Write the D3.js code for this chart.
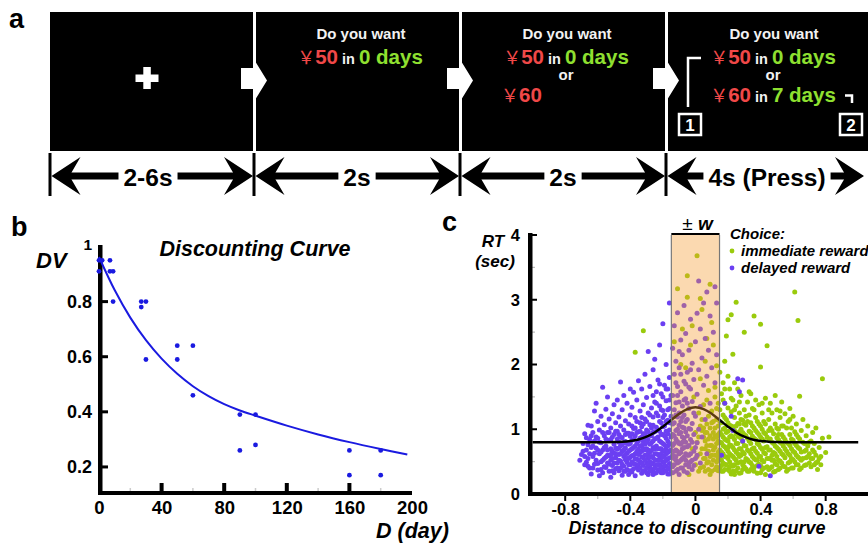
<!DOCTYPE html>
<html>
<head>
<meta charset="utf-8">
<script src="https://cdn.jsdelivr.net/npm/d3@7"></script>
<style>
body { margin: 0; background: #fff; }
svg { display: block; font-family: "Liberation Sans", Arial, sans-serif; }
</style>
</head>
<body>
<script>
const W = 868, H = 543
const RED = "#f04848", LIME = "#8fe030"
const PURPLE = "#6b3ff2", GREEN = "#9acb0c", BLUE = "#1a1ae0"

// panel a : trial timeline
const stageLabels = ["2-6s", "2s", "2s", "4s (Press)"]
const stageEdges = [50, 254, 460, 666, 868]

// panel b : discounting curve
const delayDays = [0, 2, 0, 7, 7, 9, 9, 27, 27, 30, 30, 50, 50, 60, 60, 90, 90, 100, 100, 160, 160, 180, 180]
const dvValues = [0.95, 0.95, 0.91, 0.95, 0.91, 0.91, 0.80, 0.80, 0.78, 0.80, 0.59, 0.64, 0.59, 0.64, 0.46, 0.39, 0.26, 0.39, 0.28, 0.26, 0.17, 0.26, 0.17]
const fitDays = [0, 10, 20, 30, 40, 50, 60, 70, 80, 90, 100, 120, 140, 160, 180, 197]
const fitDV = [0.962, 0.842, 0.742, 0.66, 0.593, 0.538, 0.493, 0.457, 0.428, 0.405, 0.386, 0.35, 0.318, 0.29, 0.265, 0.245]
const dvTicks = [0.2, 0.4, 0.6, 0.8, 1]
const dayTicks = [0, 40, 80, 120, 160, 200]

// panel c : RT vs distance to curve
const rtTicks = [0, 1, 2, 3, 4]
const distTicks = [-0.8, -0.4, 0, 0.4, 0.8]
const halfW = 0.148
const modelDist = [-1.0, -0.6, -0.5, -0.45, -0.4, -0.35, -0.3, -0.25, -0.2, -0.15, -0.1, -0.05, 0, 0.05, 0.1, 0.15, 0.2, 0.25, 0.3, 0.35, 0.4, 0.45, 0.5, 0.6, 1.0]
const modelRT = [0.8, 0.8, 0.803, 0.808, 0.82, 0.843, 0.885, 0.95, 1.04, 1.14, 1.24, 1.31, 1.34, 1.31, 1.24, 1.14, 1.04, 0.95, 0.885, 0.843, 0.82, 0.808, 0.803, 0.8, 0.8]

const immediatePts = [
  [0.01,3.68],[-0.05,3.37],[-0.11,3.17],[-0.05,3.04],[0.09,3.24],[-0.08,2.55],[-0.02,2.60],[0.04,2.85],[0.10,2.65],[-0.13,2.35],
  [-0.03,2.30],[0.06,2.05],[0.11,2.30],[0.13,1.98],[-0.06,1.95],[0.03,1.78],[0.08,1.60],[0.12,1.50],[-0.01,1.50],[0.05,1.38],
  [0.10,1.28],[0.13,1.15],[0.02,1.25],[0.07,1.08],[0.11,0.95],[0.14,0.82],[0.04,0.98],[0.08,0.85],[0.12,0.72],[0.01,0.80],
  [0.06,0.70],[0.10,0.60],[0.13,0.50],[0.03,0.62],[0.08,0.50],[0.12,0.38],[0.05,0.42],[0.09,0.30],[0.14,0.65],[0.02,0.35],
  [-0.02,0.70],[0.00,0.95],[0.06,0.55],[0.11,1.12],[0.13,1.32],[0.07,1.45],[0.09,0.75],[0.04,1.15],[0.12,0.90],[0.10,0.45],
  [-0.04,0.30],[0.14,1.05],[0.08,1.20],[0.05,0.88],[0.11,0.68],[0.13,0.60],[0.06,0.95],[0.09,1.02],[0.14,1.40],[0.12,1.65],
  [-0.09,2.00],[-0.12,1.20],[0.03,3.02],[0.07,2.40],[-0.32,2.52],[-0.37,2.19],
  [0.00,0.45],[0.01,0.58],[0.02,0.88],[0.03,0.40],[0.03,1.05],[0.04,0.70],[0.05,0.55],[0.05,1.02],[0.06,0.35],[0.06,0.82],
  [0.07,0.48],[0.07,0.95],[0.08,0.66],[0.08,0.38],[0.09,0.58],[0.09,0.90],[0.10,0.75],[0.10,1.10],[0.11,0.52],[0.11,0.85],
  [0.12,0.60],[0.12,1.02],[0.13,0.42],[0.13,0.78],[0.14,0.55],[0.14,0.92],[0.14,0.36],[0.13,0.88],[0.10,0.35],[0.07,0.75],
  [0.15,0.40],[0.15,0.68],[0.15,0.95],[0.15,1.30],[0.15,1.88],[0.16,0.52],[0.16,0.79],[0.16,1.10],[0.16,1.55],[0.17,0.35],
  [0.17,0.62],[0.17,0.88],[0.17,1.22],[0.17,1.72],[0.18,0.46],[0.18,0.73],[0.18,1.02],[0.18,1.40],[0.18,2.05],[0.19,0.57],
  [0.19,0.83],[0.19,1.15],[0.19,2.44],[0.20,0.38],[0.20,0.66],[0.20,0.97],[0.20,1.33],[0.20,2.69],[0.21,0.50],[0.21,0.76],
  [0.21,1.06],[0.21,1.62],[0.22,0.31],[0.22,0.60],[0.22,0.90],[0.22,1.27],[0.22,2.77],[0.16,0.44],[0.18,0.58],[0.20,0.82],
  [0.15,1.12],[0.21,0.42],[0.19,0.70],[0.17,1.00],[0.22,1.48],
  [0.23,0.43],[0.23,0.72],[0.23,1.04],[0.23,1.45],[0.23,2.16],[0.24,0.55],[0.24,0.84],[0.24,1.18],[0.25,0.36],[0.25,0.65],
  [0.25,0.93],[0.25,1.36],[0.25,2.96],[0.26,0.48],[0.26,0.78],[0.26,1.09],[0.26,1.62],[0.27,0.58],[0.27,0.88],[0.27,1.25],
  [0.28,0.33],[0.28,0.70],[0.28,1.00],[0.28,1.52],[0.29,0.45],[0.29,0.81],[0.29,1.14],[0.30,0.62],[0.30,0.92],[0.30,1.30],
  [0.30,2.50],[0.31,0.39],[0.31,0.74],[0.31,1.06],[0.32,0.53],[0.32,0.86],[0.32,1.42],[0.24,0.30],[0.26,0.62],[0.28,0.86],
  [0.30,0.50],[0.27,1.08],[0.24,0.98],[0.31,1.20],
  [0.33,0.35],[0.33,0.66],[0.33,0.97],[0.33,1.22],[0.34,0.48],[0.34,0.78],[0.34,1.10],[0.34,1.55],[0.35,0.58],[0.35,0.89],
  [0.35,1.32],[0.36,0.41],[0.36,0.71],[0.36,1.02],[0.36,2.75],[0.37,0.53],[0.37,0.84],[0.37,1.18],[0.37,1.45],[0.38,0.32],
  [0.38,0.63],[0.38,0.95],[0.39,0.46],[0.39,0.76],[0.39,1.08],[0.39,1.38],[0.40,0.58],[0.40,0.88],[0.40,1.96],[0.40,2.62],
  [0.41,0.38],[0.41,0.69],[0.41,1.00],[0.41,1.25],[0.42,0.50],[0.42,0.82],[0.42,1.12],[0.43,0.62],[0.43,0.93],[0.43,1.48],
  [0.44,0.42],[0.44,0.73],[0.44,2.29],[0.35,0.44],[0.38,0.52],[0.36,0.86],[0.42,0.64],[0.40,0.44],[0.34,0.62],[0.43,0.30],
  [0.45,0.55],[0.45,0.85],[0.45,1.15],[0.46,0.40],[0.46,0.68],[0.46,1.02],[0.46,1.40],[0.47,0.52],[0.47,0.80],[0.47,1.25],
  [0.48,0.34],[0.48,0.64],[0.48,0.93],[0.49,0.47],[0.49,0.74],[0.49,1.08],[0.49,1.52],[0.50,0.58],[0.50,0.87],[0.50,1.30],
  [0.51,0.38],[0.51,0.69],[0.51,1.00],[0.52,0.51],[0.52,0.80],[0.52,1.18],[0.53,0.62],[0.53,0.92],[0.53,1.42],[0.54,0.43],
  [0.54,0.74],[0.54,1.05],[0.55,0.56],[0.55,0.84],[0.55,1.24],[0.56,0.35],[0.56,0.66],[0.47,0.60],[0.50,0.45],[0.53,0.78],
  [0.45,0.98],[0.51,0.84],
  [0.57,0.48],[0.57,0.78],[0.57,1.12],[0.58,0.60],[0.58,0.92],[0.58,1.32],[0.59,0.40],[0.59,0.70],[0.59,1.02],[0.60,0.53],
  [0.60,0.83],[0.60,1.20],[0.61,3.12],[0.61,0.64],[0.61,0.96],[0.62,0.45],[0.62,0.75],[0.62,1.08],[0.63,2.68],[0.63,0.57],
  [0.63,0.88],[0.64,1.51],[0.64,0.38],[0.64,0.70],[0.65,0.98],[0.65,0.52],[0.66,0.80],[0.66,1.15],[0.67,0.44],[0.67,0.66],
  [0.68,0.90],[0.68,0.56],[0.69,0.74],[0.69,1.05],[0.70,0.48],[0.70,0.62],
  [0.71,0.82],[0.71,0.55],[0.72,0.95],[0.72,0.68],[0.73,0.45],[0.73,0.78],[0.74,0.60],[0.74,1.02],[0.75,0.50],[0.76,0.72],
  [0.77,0.58],[0.78,1.78],[0.78,0.86],[0.80,0.64],[0.82,0.88],[0.75,0.38],
  [0.15,0.55],[0.15,0.80],[0.16,0.35],[0.16,0.65],[0.16,0.92],[0.17,0.48],[0.17,0.75],[0.17,1.45],[0.18,0.38],[0.18,0.85],
  [0.18,1.18],[0.19,0.45],[0.19,0.95],[0.20,0.55],[0.20,0.72],[0.20,1.10],[0.21,0.35],[0.21,0.62],[0.21,0.88],[0.22,0.45],
  [0.22,0.75],[0.22,1.05],[0.23,0.35],[0.23,0.58],[0.23,0.88],[0.24,0.45],[0.24,0.68],[0.24,1.30],[0.25,0.52],[0.25,0.78],
  [0.25,1.05],[0.26,0.40],[0.26,0.90],[0.27,0.32],[0.27,0.70],[0.27,0.96],[0.28,0.50],[0.28,0.60],[0.28,1.15],[0.29,0.38],
  [0.29,0.65],[0.29,0.95],[0.30,0.42],[0.30,0.75],[0.30,1.08],[0.31,0.55],[0.31,0.90],[0.32,0.35],[0.32,0.68],[0.32,1.12],
  [0.33,0.50],[0.33,0.82],[0.34,0.38],[0.34,0.95],[0.35,0.70],[0.35,1.05],[0.36,0.55],[0.36,0.35],[0.37,0.66],[0.37,0.98],
  [0.38,0.44],[0.38,0.78],[0.38,1.12],[0.39,0.58],[0.39,0.92],[0.40,0.33],[0.40,0.72],[0.40,1.05],[0.41,0.52],[0.41,0.85],
  [0.42,0.40],[0.42,0.95],[0.43,0.72],[0.43,1.08],[0.44,0.55],[0.44,0.88],[0.45,0.38],[0.45,0.68],[0.46,0.55],[0.46,0.85],
  [0.47,0.42],[0.47,0.98],[0.48,0.52],[0.48,0.78],[0.49,0.35],[0.49,0.62],[0.50,0.72],[0.50,1.02],[0.51,0.52],[0.51,0.92],
  [0.52,0.40],[0.52,0.66],[0.53,0.48],[0.53,1.05],[0.54,0.60],[0.54,0.88],[0.55,0.42],[0.55,0.70],[0.56,0.80],[0.56,1.02],
  [0.57,0.62],[0.57,0.38],[0.58,0.50],[0.58,0.75],[0.59,0.85],[0.59,0.55],[0.60,0.66],[0.60,0.40],[0.61,0.78],[0.61,0.50],
  [0.62,0.60],[0.62,0.92],[0.63,0.45],[0.63,0.72],[0.64,0.55],[0.64,0.85],[0.65,0.65],[0.65,0.40],[0.66,0.55],[0.67,0.78],
  [0.68,0.45],[0.68,0.68],[0.69,0.58],[0.70,0.80],[0.71,0.42],[0.72,0.55],[0.73,0.65],[0.74,0.48],[0.76,0.55],[0.77,0.45],
  [0.18,1.62],[0.20,1.82],[0.24,1.72],[0.27,1.42],[0.33,1.58],[0.36,1.30],[0.41,1.40],[0.45,1.30],[0.52,1.28],[0.58,1.15]
]

const delayedPts = [
  [-0.71,0.52],[-0.70,0.61],[-0.69,0.78],[-0.68,0.45],[-0.68,0.93],[-0.67,0.68],[-0.66,1.06],[-0.66,0.55],[-0.65,0.84],[-0.64,0.31],
  [-0.64,0.72],[-0.64,1.05],[-0.65,0.40],[-0.67,0.87],
  [-0.63,0.58],[-0.63,0.95],[-0.62,0.46],[-0.62,1.28],[-0.61,0.71],[-0.61,1.40],[-0.60,0.37],[-0.60,0.86],[-0.60,1.12],[-0.59,0.62],
  [-0.59,0.99],[-0.58,0.50],[-0.58,0.79],[-0.58,1.20],[-0.57,0.33],[-0.57,0.68],[-0.57,1.65],[-0.56,0.90],[-0.56,0.55],[-0.56,1.07],
  [-0.59,0.28],[-0.62,0.82],
  [-0.55,0.41],[-0.55,0.74],[-0.55,1.31],[-0.54,0.60],[-0.54,1.50],[-0.54,0.95],[-0.53,0.35],[-0.53,0.83],[-0.53,1.16],[-0.52,0.26],
  [-0.52,0.52],[-0.52,0.70],[-0.52,1.02],[-0.51,0.44],[-0.51,0.88],[-0.51,1.24],[-0.50,0.63],[-0.50,0.77],[-0.50,1.38],[-0.50,0.33],
  [-0.49,0.56],[-0.49,0.97],[-0.49,1.10],[-0.48,0.48],[-0.48,0.69],[-0.48,0.85],[-0.48,1.45],[-0.53,0.59],[-0.51,0.66],[-0.49,0.39],
  [-0.47,0.36],[-0.47,0.61],[-0.47,0.92],[-0.47,1.19],[-0.46,0.51],[-0.46,0.74],[-0.46,1.05],[-0.46,1.73],[-0.45,0.29],[-0.45,0.66],
  [-0.45,0.87],[-0.45,1.30],[-0.44,0.43],[-0.44,0.58],[-0.44,0.99],[-0.44,1.52],[-0.43,0.35],[-0.43,0.71],[-0.43,0.81],[-0.43,1.13],
  [-0.42,0.49],[-0.42,0.63],[-0.42,0.94],[-0.42,1.40],[-0.41,0.30],[-0.41,0.55],[-0.41,0.77],[-0.41,1.08],[-0.40,0.45],[-0.40,0.68],
  [-0.40,0.89],[-0.40,1.22],[-0.40,1.62],[-0.46,0.40],[-0.44,0.79],[-0.42,0.38],[-0.47,0.80],[-0.43,0.53],
  [-0.39,0.34],[-0.39,0.59],[-0.39,0.83],[-0.39,1.34],[-0.38,0.47],[-0.38,0.72],[-0.38,1.01],[-0.38,1.57],[-0.37,0.28],[-0.37,0.62],
  [-0.37,0.90],[-0.37,1.18],[-0.36,0.41],[-0.36,0.54],[-0.36,0.78],[-0.36,1.45],[-0.35,0.37],[-0.35,0.69],[-0.35,0.96],[-0.35,1.75],
  [-0.34,0.50],[-0.34,0.64],[-0.34,0.86],[-0.34,1.10],[-0.34,1.28],[-0.33,0.32],[-0.33,0.57],[-0.33,0.75],[-0.33,1.04],[-0.33,1.62],
  [-0.32,0.44],[-0.32,0.81],[-0.32,0.93],[-0.32,1.38],[-0.38,0.39],[-0.36,1.12],[-0.35,0.52],[-0.37,0.74],[-0.33,0.88],[-0.39,1.05],
  [-0.31,0.36],[-0.31,0.60],[-0.31,0.77],[-0.31,1.16],[-0.31,1.85],[-0.30,0.48],[-0.30,0.70],[-0.30,0.99],[-0.30,1.49],[-0.29,0.30],
  [-0.29,0.55],[-0.29,0.84],[-0.29,1.25],[-0.29,2.20],[-0.28,0.42],[-0.28,0.65],[-0.28,0.91],[-0.28,1.07],[-0.28,1.66],[-0.27,0.35],
  [-0.27,0.58],[-0.27,0.79],[-0.27,1.33],[-0.26,0.47],[-0.26,0.72],[-0.26,0.95],[-0.26,1.19],[-0.26,1.92],[-0.25,0.32],[-0.25,0.62],
  [-0.25,0.85],[-0.25,1.42],[-0.25,2.08],[-0.24,0.52],[-0.24,0.74],[-0.24,1.03],[-0.24,1.58],[-0.30,0.40],[-0.28,0.50],[-0.27,1.02],
  [-0.29,0.68],[-0.25,0.45],[-0.31,0.93],[-0.26,0.38],
  [-0.23,0.38],[-0.23,0.61],[-0.23,0.88],[-0.23,1.21],[-0.23,1.76],[-0.22,0.45],[-0.22,0.70],[-0.22,0.97],[-0.22,1.36],[-0.22,2.30],
  [-0.21,0.33],[-0.21,0.56],[-0.21,0.80],[-0.21,1.10],[-0.21,1.55],[-0.20,0.49],[-0.20,0.66],[-0.20,0.92],[-0.20,1.29],[-0.20,2.63],
  [-0.19,0.36],[-0.19,0.59],[-0.19,0.76],[-0.19,1.05],[-0.19,1.68],[-0.18,0.43],[-0.18,0.71],[-0.18,0.86],[-0.18,1.44],[-0.18,2.00],
  [-0.17,0.31],[-0.17,0.54],[-0.17,0.82],[-0.17,1.14],[-0.17,1.62],[-0.16,0.47],[-0.16,0.66],[-0.16,0.99],[-0.16,1.32],[-0.16,2.95],
  [-0.16,1.80],[-0.21,0.62],[-0.19,0.50],[-0.17,0.74],[-0.22,0.58],[-0.20,0.40],[-0.18,0.97],[-0.23,0.52],[-0.16,0.39],[-0.20,1.18],
  [-0.69,0.66],[-0.68,0.58],[-0.67,0.49],[-0.66,0.76],[-0.66,0.43],[-0.65,0.62],[-0.64,0.90],[-0.63,0.40],[-0.63,0.74],[-0.62,0.63],
  [-0.61,0.52],[-0.61,0.88],[-0.60,0.68],[-0.60,0.47],[-0.59,0.80],[-0.58,0.38],[-0.58,0.65],[-0.57,0.95],[-0.57,0.52],[-0.56,0.72],
  [-0.56,0.42],[-0.55,0.85],[-0.55,0.57],[-0.54,0.48],[-0.54,0.68],[-0.53,0.95],[-0.53,0.46],[-0.52,0.61],[-0.52,0.84],[-0.51,0.36],
  [-0.51,0.55],[-0.50,0.92],[-0.50,0.48],[-0.49,0.71],[-0.49,0.62],[-0.48,0.40],[-0.48,0.97],[-0.47,0.52],[-0.47,0.71],[-0.46,0.62],
  [-0.46,0.88],[-0.45,0.46],[-0.45,0.76],[-0.44,0.35],[-0.44,0.68],[-0.43,0.61],[-0.43,0.92],[-0.42,0.78],[-0.42,0.55],[-0.41,0.45],
  [-0.41,0.66],[-0.41,0.94],[-0.40,0.36],[-0.40,0.57],[-0.40,0.78],[-0.39,0.50],[-0.39,0.70],[-0.39,0.93],[-0.38,0.60],[-0.38,0.84],
  [-0.37,0.46],[-0.37,0.54],[-0.37,1.02],[-0.36,0.66],[-0.36,0.95],[-0.35,0.45],[-0.35,0.61],[-0.35,0.82],[-0.34,0.40],[-0.34,0.74],
  [-0.34,0.97],[-0.33,0.48],[-0.33,0.66],[-0.33,1.18],[-0.32,0.36],[-0.32,0.56],[-0.32,0.70],[-0.32,1.08],[-0.31,0.52],[-0.31,0.68],
  [-0.31,0.85],[-0.30,0.33],[-0.30,0.60],[-0.30,0.80],[-0.30,1.12],[-0.29,0.45],[-0.29,0.62],[-0.29,0.96],[-0.28,0.36],[-0.28,0.57],
  [-0.28,0.77],[-0.28,1.22],[-0.27,0.47],[-0.27,0.67],[-0.27,0.90],[-0.26,0.30],[-0.26,0.56],[-0.26,0.82],[-0.26,1.06],[-0.25,0.40],
  [-0.25,0.53],[-0.25,0.70],[-0.25,0.96],[-0.24,0.33],[-0.24,0.62],[-0.24,0.86],[-0.24,1.25],[-0.23,0.45],[-0.23,0.70],[-0.23,0.98],
  [-0.22,0.36],[-0.22,0.52],[-0.22,0.82],[-0.22,1.12],[-0.21,0.42],[-0.21,0.70],[-0.21,0.92],[-0.21,1.30],[-0.20,0.33],[-0.20,0.57],
  [-0.20,0.78],[-0.20,1.04],[-0.19,0.44],[-0.19,0.67],[-0.19,0.90],[-0.19,1.22],[-0.18,0.35],[-0.18,0.52],[-0.18,0.62],[-0.18,1.12],
  [-0.17,0.40],[-0.17,0.64],[-0.17,0.93],[-0.17,1.30],[-0.16,0.31],[-0.16,0.56],[-0.16,0.78],[-0.16,1.10],[-0.15,0.45],[-0.15,0.68],
  [-0.15,0.88],[-0.15,1.20],[-0.15,0.33],[-0.15,1.52],[-0.16,1.45],[-0.18,1.62],[-0.20,1.50],[-0.22,1.70],[-0.24,1.40],[-0.26,1.52],
  [-0.14,0.42],[-0.14,0.75],[-0.14,1.08],[-0.14,1.52],[-0.14,2.25],[-0.13,0.55],[-0.13,0.90],[-0.13,1.30],[-0.13,1.85],[-0.13,2.60],
  [-0.12,0.35],[-0.12,0.68],[-0.12,0.98],[-0.12,1.41],[-0.12,2.05],[-0.11,0.48],[-0.11,0.81],[-0.11,1.19],[-0.11,1.66],[-0.11,2.80],
  [-0.10,0.30],[-0.10,0.62],[-0.10,0.93],[-0.10,1.25],[-0.10,1.95],[-0.09,0.52],[-0.09,0.77],[-0.09,1.12],[-0.09,1.58],[-0.09,2.38],
  [-0.08,0.40],[-0.08,0.70],[-0.08,1.03],[-0.08,1.36],[-0.08,2.15],[-0.07,0.57],[-0.07,0.86],[-0.07,1.22],[-0.07,1.74],[-0.07,2.91],
  [-0.06,0.45],[-0.06,0.96],[-0.06,1.47],[-0.06,2.48],[-0.05,0.33],[-0.05,0.73],[-0.05,1.15],[-0.05,1.88],[-0.04,0.60],[-0.04,1.01],
  [-0.04,1.32],[-0.04,2.22],[-0.03,0.50],[-0.03,0.84],[-0.03,1.62],[-0.03,2.70],[-0.02,0.38],[-0.02,1.09],[-0.02,1.43],[-0.02,2.02],
  [-0.01,0.66],[-0.01,0.92],[-0.01,1.77],[0.00,0.55],[0.00,1.20],[0.00,2.35],[0.01,0.79],[0.01,1.54],[0.01,2.79],[0.02,1.00],
  [0.02,1.92],[0.02,3.29],[0.03,0.48],[0.03,1.35],[0.03,2.55],[0.04,0.88],[0.04,2.10],[0.05,1.68],[0.05,2.95],[0.06,1.15],
  [0.06,2.40],[0.07,0.62],[0.07,1.82],[0.07,3.12],[0.08,2.22],[0.09,1.40],[0.09,2.75],[0.10,1.95],[0.11,2.50],[0.12,3.20],
  [0.12,1.72],[0.13,2.15],[0.13,2.95],[-0.12,0.52],[-0.10,1.06],[-0.06,0.62],[-0.08,0.88],[-0.04,0.42],[-0.13,0.66],[-0.11,1.52],
  [-0.07,1.02],[-0.05,1.40],
  [-0.14,0.33],[-0.14,0.60],[-0.14,0.92],[-0.13,0.45],[-0.13,0.78],[-0.13,1.10],[-0.12,0.58],[-0.12,0.85],[-0.12,1.22],[-0.11,0.38],
  [-0.11,0.66],[-0.11,1.00],[-0.10,0.50],[-0.10,0.78],[-0.10,1.42],[-0.09,0.40],[-0.09,0.64],[-0.09,0.95],[-0.08,0.55],[-0.08,0.80],
  [-0.08,1.18],[-0.07,0.35],[-0.07,0.72],[-0.07,1.45],[-0.06,0.52],[-0.06,0.80],[-0.06,1.12],[-0.05,0.60],[-0.05,0.90],[-0.04,0.48],
  [-0.04,0.75],[-0.04,1.65],[-0.03,0.62],[-0.03,1.00],[-0.02,0.52],[-0.02,0.80],[-0.01,0.44],[-0.01,1.25],[0.00,0.72],[0.01,0.60],
  [-0.12,1.72],[-0.09,1.85],[-0.06,1.70],[-0.10,2.20],[-0.03,1.92],
  [0.26,1.78],[0.29,1.76],[0.27,1.58],[0.23,0.98],[0.29,0.82],[0.39,0.43],[0.46,0.28],[0.18,1.40],[0.22,1.20],[0.16,0.60]
]

const svg = d3.select("body").append("svg").attr("width", W).attr("height", H)
svg.append("rect").attr("width", W).attr("height", H).attr("fill", "#fff")

function panelLetter(x, y, t) {
  svg.append("text").attr("x", x).attr("y", y).attr("font-size", 27).attr("font-weight", "bold").text(t)
}

// ---------- a ----------
const ga = svg.append("g")
panelLetter(9, 28, "a")

d3.pairs(stageEdges).forEach(([x0, x1], i) => {
  const l = i === 0 ? x0 : x0 + 2, r = i === 3 ? x1 : x1 - 1
  ga.append("rect").attr("x", l).attr("y", 12).attr("width", r - l).attr("height", 139).attr("fill", "#000")
})

// fixation cross
ga.append("rect").attr("x", 135.5).attr("y", 74.5).attr("width", 23).attr("height", 7.5).attr("fill", "#fff")
ga.append("rect").attr("x", 143.3).attr("y", 67).attr("width", 7.5).attr("height", 22).attr("fill", "#fff")

// block arrows between screens
stageEdges.slice(1, 4).forEach(d => {
  const pts = [[d - 13, 68], [d + 1, 68], [d + 1, 61], [d + 13, 80.5], [d + 1, 100], [d + 1, 89], [d - 13, 89]]
  ga.append("polygon").attr("points", pts.join(" ")).attr("fill", "#fff")
})

function offer(x, y, anchor, amount, days) {
  const t = ga.append("text").attr("x", x).attr("y", y).attr("text-anchor", anchor).attr("font-weight", "bold")
  t.append("tspan").attr("font-family", "'Noto Sans CJK SC', sans-serif").attr("font-weight", "normal")
    .attr("font-size", 18).attr("fill", RED).text("￥")
  t.append("tspan").attr("font-size", 20.5).attr("fill", RED).text(amount)
  if (days !== null) {
    t.append("tspan").attr("font-size", 14.5).attr("fill", "#f2f2f2").text(" in ")
    t.append("tspan").attr("font-size", 20.5).attr("fill", LIME).text(days + " days")
  }
}
function small(x, y, txt) {
  ga.append("text").attr("x", x).attr("y", y).attr("text-anchor", "middle").attr("font-weight", "bold")
    .attr("font-size", 15).attr("fill", "#f2f2f2").text(txt)
}

small(361, 39, "Do you want")
offer(360, 63.5, "middle", "50", 0)

small(567, 39, "Do you want")
offer(566, 63.5, "middle", "50", 0)
small(566, 80, "or")
offer(501, 101.5, "start", "60", null)

small(774, 39, "Do you want")
offer(773, 63.5, "middle", "50", 0)
small(773, 80, "or")
offer(773, 101.5, "middle", "60", 7)

// response keys
ga.append("path").attr("d", "M688,107V58H701").attr("fill", "none").attr("stroke", "#fff").attr("stroke-width", 2.5)
ga.append("path").attr("d", "M845,95.5H852V103").attr("fill", "none").attr("stroke", "#fff").attr("stroke-width", 2.5)
;[[679, "1"], [840, "2"]].forEach(([x, k]) => {
  ga.append("rect").attr("x", x).attr("y", 114).attr("width", 22).attr("height", 21)
    .attr("fill", "none").attr("stroke", "#fff").attr("stroke-width", 2.5)
  ga.append("text").attr("x", x + 11).attr("y", 131).attr("text-anchor", "middle").attr("font-weight", "bold")
    .attr("font-size", 17).attr("fill", "#fff").text(k)
})

// timeline
const ty = 176
function head(x, dir) {
  const p = [[x, ty], [x - dir * 29, 157], [x - dir * 20, ty - 3.5], [x - dir * 20, ty + 3.5], [x - dir * 29, 195]]
  ga.append("polygon").attr("points", p.join(" ")).attr("fill", "#000")
}
stageEdges.slice(0, 4).forEach(x => {
  ga.append("rect").attr("x", x - 1.5).attr("y", 153).attr("width", 3).attr("height", 43).attr("fill", "#000")
})
d3.pairs(stageEdges).forEach(([x0, x1], i) => {
  const x1e = i === 3 ? 864 : x1 - 1
  const cx = (x0 + x1) / 2 - (i === 0 ? 4 : 0)
  const t = ga.append("text").attr("x", cx).attr("y", 185.5).attr("text-anchor", "middle")
    .attr("font-weight", "bold").attr("font-size", 24.5).text(stageLabels[i])
  const w = t.node().getComputedTextLength()
  head(x0 + 1.5, -1)
  head(x1e, 1)
  ga.append("rect").attr("x", x0 + 20).attr("y", ty - 3.5).attr("width", cx - w / 2 - 5 - (x0 + 20)).attr("height", 7).attr("fill", "#000")
  ga.append("rect").attr("x", cx + w / 2 + 5).attr("y", ty - 3.5).attr("width", x1e - 20 - (cx + w / 2 + 5)).attr("height", 7).attr("fill", "#000")
})

// axis helper: d3 axis for tick labels, heavy rule and tick marks drawn as filled rects
function labelAxis(g, size) {
  g.select(".domain").remove()
  g.selectAll(".tick line").remove()
  g.selectAll(".tick text").attr("font-family", "'Liberation Sans', Arial, sans-serif")
    .attr("font-size", size).attr("font-weight", "bold").attr("fill", "#000")
}

// ---------- b ----------
const gb = svg.append("g")
panelLetter(11, 236, "b")
const xb = d3.scaleLinear().domain([0, 200]).range([99, 412])
const yb = d3.scaleLinear().domain([0.1, 1]).range([494.5, 246.5])

gb.append("g").attr("transform", "translate(100,0)")
  .call(d3.axisLeft(yb).tickValues(dvTicks).tickSize(0).tickPadding(8)
    .tickFormat(d => d === 1 ? "1" : d3.format(".1f")(d)))
  .call(g => labelAxis(g, 18))
  .call(g => g.selectAll(".tick").filter(d => d === 1).select("text").attr("font-size", 15.5).attr("dy", "0.2em"))

gb.append("g").attr("transform", "translate(0,493)")
  .call(d3.axisBottom(xb).tickValues(dayTicks).tickSize(0).tickPadding(8))
  .call(g => labelAxis(g, 18.5))

// faint minor ticks
gb.selectAll("rect.minor").data([20, 60, 100, 140, 180]).join("rect").attr("class", "minor")
  .attr("x", d => xb(d) - 0.75).attr("y", 488).attr("width", 1.5).attr("height", 3).attr("fill", "#ccc")
// axis rules
gb.append("rect").attr("x", 98).attr("y", 245).attr("width", 4.5).attr("height", 250).attr("fill", "#000")
gb.append("rect").attr("x", 98).attr("y", 491).attr("width", 314).attr("height", 4).attr("fill", "#000")
gb.selectAll("rect.ytick").data(dvTicks.slice(0, 4)).join("rect").attr("class", "ytick")
  .attr("x", 102).attr("y", d => yb(d) - 1.5).attr("width", 6).attr("height", 3).attr("fill", "#000")
gb.selectAll("rect.xtick").data(dayTicks.slice(1, 5)).join("rect").attr("class", "xtick")
  .attr("x", d => xb(d) - 2).attr("y", 483).attr("width", 4).attr("height", 9).attr("fill", "#000")

gb.append("path")
  .datum(d3.zip(fitDays, fitDV))
  .attr("fill", "none").attr("stroke", BLUE).attr("stroke-width", 2)
  .attr("d", d3.line().x(d => xb(d[0])).y(d => yb(d[1])).curve(d3.curveCatmullRom))

gb.selectAll("circle.dv").data(d3.zip(delayDays, dvValues)).join("circle")
  .attr("class", "dv").attr("cx", d => xb(d[0])).attr("cy", d => yb(d[1])).attr("r", 2.4).attr("fill", BLUE)

gb.append("text").attr("x", 255).attr("y", 256).attr("text-anchor", "middle").attr("font-size", 21.5)
  .attr("font-weight", "bold").attr("font-style", "italic").text("Discounting Curve")
gb.append("text").attr("x", 36).attr("y", 268).attr("font-size", 22)
  .attr("font-weight", "bold").attr("font-style", "italic").text("DV")
gb.append("text").attr("x", 376).attr("y", 538).attr("font-size", 21.5)
  .attr("font-weight", "bold").attr("font-style", "italic").text("D (day)")

// ---------- c ----------
const gc = svg.append("g")
panelLetter(442, 231, "c")
const xc = d3.scaleLinear().domain([-1.01, 1.06]).range([531, 868])
const yc = d3.scaleLinear().domain([0, 4]).range([494, 235])

gc.selectAll("circle.imm").data(immediatePts).join("circle")
  .attr("class", "imm").attr("cx", d => xc(d[0])).attr("cy", d => yc(d[1])).attr("r", 2.5).attr("fill", GREEN)
gc.selectAll("circle.del").data(delayedPts).join("circle")
  .attr("class", "del").attr("cx", d => xc(d[0])).attr("cy", d => yc(d[1])).attr("r", 2.5).attr("fill", PURPLE)

gc.append("path")
  .datum(d3.zip(modelDist, modelRT))
  .attr("fill", "none").attr("stroke", "#000").attr("stroke-width", 2.5)
  .attr("d", d3.line().x(d => xc(d[0])).y(d => yc(d[1])).curve(d3.curveMonotoneX))

// ±w band
const bx0 = xc(-halfW), bx1 = xc(halfW)
gc.append("rect").attr("x", bx0).attr("y", yc(4)).attr("width", bx1 - bx0).attr("height", yc(0) - yc(4))
  .attr("fill", "#f59a30").attr("fill-opacity", 0.38)
;[bx0, bx1].forEach(x => gc.append("line").attr("x1", x).attr("x2", x).attr("y1", yc(4)).attr("y2", yc(0))
  .attr("stroke", "#777").attr("stroke-width", 1.2))
gc.append("rect").attr("x", bx0).attr("y", yc(4) - 2).attr("width", bx1 - bx0).attr("height", 2).attr("fill", "#000")
const wl = gc.append("text").attr("x", (bx0 + bx1) / 2 + 2).attr("y", 230).attr("text-anchor", "middle").attr("font-size", 19)
wl.append("tspan").text("±")
wl.append("tspan").attr("font-weight", "bold").attr("font-style", "italic").text(" w")

gc.append("g").attr("transform", "translate(530,0)")
  .call(d3.axisLeft(yc).tickValues(rtTicks).tickSize(0).tickPadding(10).tickFormat(d3.format("d")))
  .call(g => labelAxis(g, 16.5))
gc.append("g").attr("transform", "translate(0,494)")
  .call(d3.axisBottom(xc).tickValues(distTicks).tickSize(0).tickPadding(9)
    .tickFormat(d => d === 0 ? "0" : d3.format(".1f")(d).replace("−", "-")))
  .call(g => labelAxis(g, 16.5))

gc.selectAll("rect.yminor").data([0.5, 1.5, 2.5, 3.5]).join("rect").attr("class", "yminor")
  .attr("x", 532).attr("y", d => yc(d) - 0.6).attr("width", 3).attr("height", 1.2).attr("fill", "#bbb")
gc.selectAll("rect.xminor").data([-0.6, -0.2, 0.2, 0.6]).join("rect").attr("class", "xminor")
  .attr("x", d => xc(d) - 0.6).attr("y", 496).attr("width", 1.2).attr("height", 3).attr("fill", "#bbb")
gc.append("rect").attr("x", 528).attr("y", 233).attr("width", 4.5).attr("height", 263).attr("fill", "#000")
gc.append("rect").attr("x", 528).attr("y", 492).attr("width", 340).attr("height", 4).attr("fill", "#000")
gc.selectAll("rect.ytick").data(rtTicks.slice(1)).join("rect").attr("class", "ytick")
  .attr("x", 532).attr("y", d => yc(d) - 1).attr("width", 5).attr("height", 2).attr("fill", "#000")
gc.selectAll("rect.xtick").data(distTicks).join("rect").attr("class", "xtick")
  .attr("x", d => xc(d) - 1).attr("y", 496).attr("width", 2).attr("height", 5).attr("fill", "#000")

gc.append("text").attr("x", 493).attr("y", 247).attr("text-anchor", "middle").attr("font-size", 17)
  .attr("font-weight", "bold").attr("font-style", "italic").text("RT")
gc.append("text").attr("x", 495).attr("y", 267).attr("text-anchor", "middle").attr("font-size", 17)
  .attr("font-weight", "bold").attr("font-style", "italic").text("(sec)")
gc.append("text").attr("x", 697).attr("y", 534).attr("text-anchor", "middle").attr("font-size", 18)
  .attr("font-weight", "bold").attr("font-style", "italic").text("Distance to discounting curve")

// legend
gc.append("text").attr("x", 730).attr("y", 239).attr("font-size", 15)
  .attr("font-weight", "bold").attr("font-style", "italic").text("Choice:")
;[["immediate reward", GREEN, 256], ["delayed reward", PURPLE, 273]].forEach(([t, c, y]) => {
  gc.append("circle").attr("cx", 732).attr("cy", y - 5).attr("r", 2.4).attr("fill", c)
  gc.append("text").attr("x", 741).attr("y", y).attr("font-size", 15)
    .attr("font-weight", "bold").attr("font-style", "italic").text(t)
})
</script>
</body>
</html>
